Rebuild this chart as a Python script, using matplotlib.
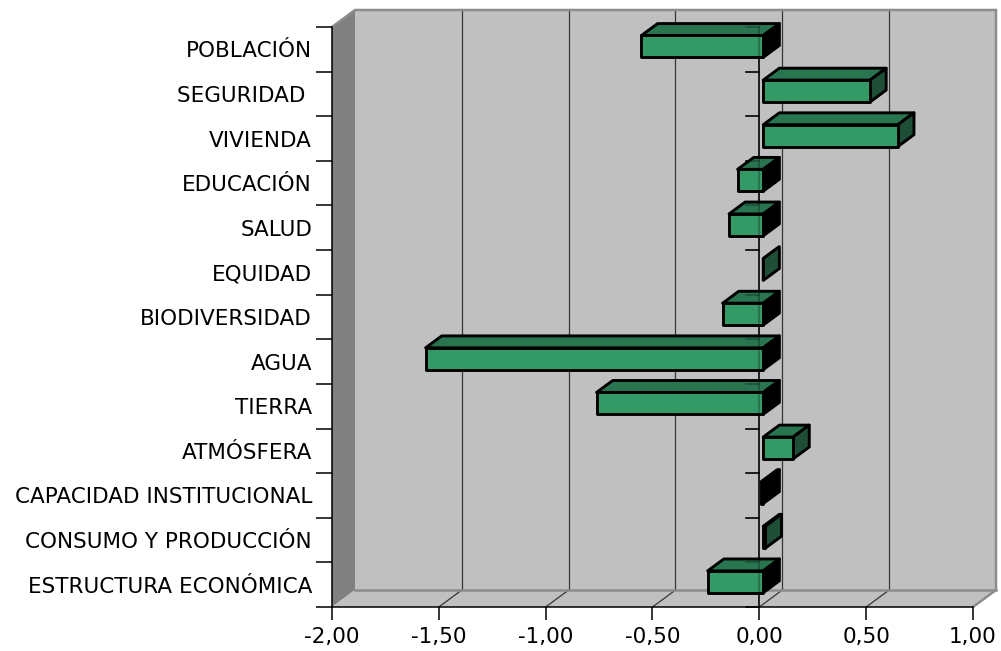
import matplotlib
matplotlib.use("Agg")
import matplotlib.pyplot as plt
from matplotlib.patches import Polygon
from matplotlib.ticker import FixedLocator, FuncFormatter

# Indicator groups (top to bottom) and their scores
categories = [
    "POBLACIÓN", "SEGURIDAD ", "VIVIENDA", "EDUCACIÓN", "SALUD", "EQUIDAD",
    "BIODIVERSIDAD", "AGUA", "TIERRA", "ATMÓSFERA",
    "CAPACIDAD INSTITUCIONAL", "CONSUMO Y PRODUCCIÓN", "ESTRUCTURA ECONÓMICA",
]
values = [-0.57, 0.50, 0.63, -0.12, -0.16, 0.00, -0.19, -1.58, -0.78, 0.14,
          -0.01, 0.01, -0.26]
x_ticks = [-2.0, -1.5, -1.0, -0.5, 0.0, 0.5, 1.0]

W, H = 1001, 651
fig = plt.figure(figsize=(W / 100, H / 100), dpi=100)
plt.rcParams["font.family"] = ["DejaVu Sans"]

n = len(categories)
LEFT, RIGHT, TOP, BOTTOM = 332, 973, 27, 607
ax = fig.add_axes([LEFT / W, 1 - BOTTOM / H, (RIGHT - LEFT) / W, (BOTTOM - TOP) / H])
xmin, xmax = x_ticks[0], x_ticks[-1]
ax.set_xlim(xmin, xmax)
ax.set_ylim(-0.5, n - 0.5)
ax.patch.set_visible(False)

# oblique depth of the box, expressed in data units
px_x = (RIGHT - LEFT) / (xmax - xmin)
px_y = (BOTTOM - TOP) / n
DX = 23 / px_x
DY = 17 / px_y


def P(x, y, f):
    """Point at value x, category position y and depth fraction f."""
    return (x + f * DX, y + f * DY)


def poly(pts, **kw):
    ax.add_patch(Polygon(pts, closed=True, clip_on=False, **kw))


y0, y1 = -0.5, n - 0.5
wall = "#c0c0c0"
edge = "#8c8c8c"

# walls and floor
poly([P(xmin, y0, 1), P(xmax, y0, 1), P(xmax, y1, 1), P(xmin, y1, 1)],
     facecolor=wall, edgecolor="none", zorder=0)
poly([P(xmin, y0, 0), P(xmin, y0, 1), P(xmin, y1, 1), P(xmin, y1, 0)],
     facecolor="#808080", edgecolor="none", zorder=0)
poly([P(xmin, y0, 0), P(xmax, y0, 0), P(xmax, y0, 1), P(xmin, y0, 1)],
     facecolor=wall, edgecolor="none", zorder=0)

# gridlines on the back wall and floor
for v in x_ticks[1:-1]:
    a, b = P(v, y0, 1), P(v, y1, 1)
    ax.plot([a[0], b[0]], [a[1], b[1]], color="#363636", lw=0.9, zorder=1, clip_on=False)
    a, b = P(v, y0, 0), P(v, y0, 1)
    ax.plot([a[0], b[0]], [a[1], b[1]], color="#363636", lw=0.9, zorder=1, clip_on=False)

# box outline
for pts in ([P(xmin, y1, 0), P(xmin, y1, 1), P(xmax, y1, 1), P(xmax, y0, 1), P(xmax, y0, 0)],
            [P(xmin, y0, 1), P(xmax, y0, 1)]):
    xs, ys = zip(*pts)
    ax.plot(xs, ys, color=edge, lw=1.8, zorder=1.5, clip_on=False, solid_joinstyle="miter")

# category axis at zero on the front plane
boundaries = [k - 0.5 for k in range(n + 1)]
tick_len = 13 / px_x


def zero_axis(alpha, z):
    ax.plot([0, 0], [y0, y1], color="black", lw=1.1, alpha=alpha, zorder=z, clip_on=False)
    for b in boundaries:
        ax.plot([-tick_len, 0], [b, b], color="black", lw=1.1, alpha=alpha, zorder=z,
                clip_on=False)


zero_axis(1.0, 2)

# bars
F0, F1 = 0.17, 0.87
half = 0.245
front_c, top_c, side_pos, side_neg = "#339966", "#287550", "#1f4e36", "#000000"
for i, (cat, v) in enumerate(zip(categories, values)):
    y = n - 1 - i
    lo, hi = min(0.0, v), max(0.0, v)
    ya, yb = y - half, y + half
    style = dict(edgecolor="black", lw=2.1, joinstyle="round", zorder=3)
    # top face
    poly([P(lo, yb, F0), P(hi, yb, F0), P(hi, yb, F1), P(lo, yb, F1)], facecolor=top_c, **style)
    # end face
    poly([P(hi, ya, F0), P(hi, yb, F0), P(hi, yb, F1), P(hi, ya, F1)],
         facecolor=side_neg if v < 0 else side_pos, **style)
    # front face
    poly([P(lo, ya, F0), P(hi, ya, F0), P(hi, yb, F0), P(lo, yb, F0)], facecolor=front_c, **style)

zero_axis(0.3, 4)

# axes, ticks and labels
for s in ("top", "right"):
    ax.spines[s].set_visible(False)
for s in ("left", "bottom"):
    ax.spines[s].set_color("black")
    ax.spines[s].set_linewidth(1.1)
    ax.spines[s].set_zorder(5)

ax.xaxis.set_major_locator(FixedLocator(x_ticks))
ax.xaxis.set_major_formatter(FuncFormatter(lambda v, _: f"{v:.2f}".replace(".", ",")))
ax.tick_params(axis="x", direction="out", length=9.4, width=1.1, pad=5, labelsize=15.5)

ax.set_yticks([n - 1 - i for i in range(n)])
ax.set_yticklabels(categories)
ax.yaxis.set_minor_locator(FixedLocator(boundaries))
ax.tick_params(axis="y", which="major", length=0, pad=14.4, labelsize=15.5)
ax.tick_params(axis="y", which="minor", direction="out", length=11.5, width=1.1)

fig.savefig("out.png", dpi=100)
